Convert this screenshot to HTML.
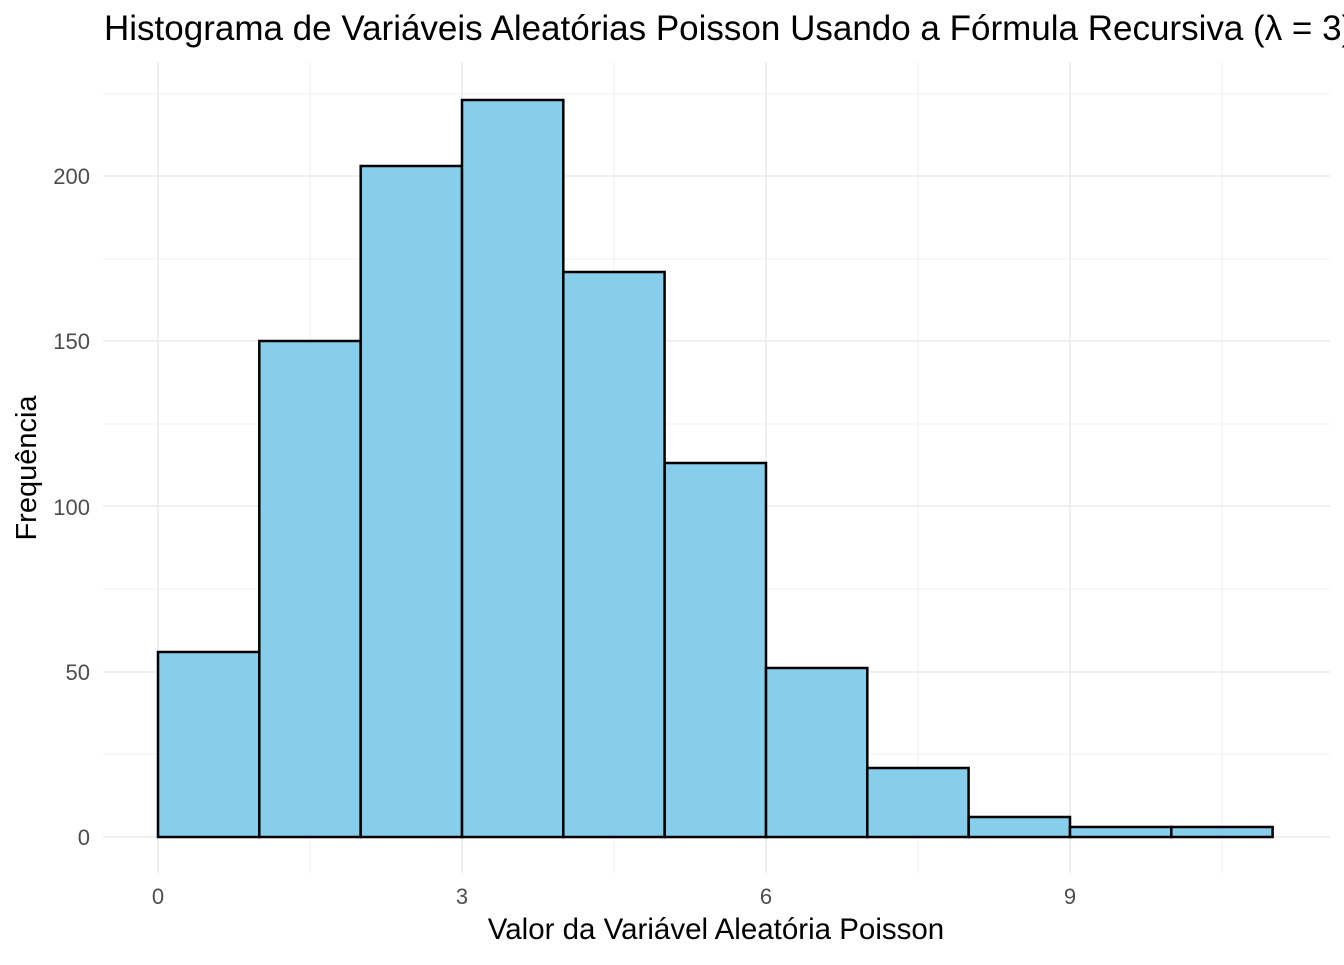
<!DOCTYPE html>
<html><head><meta charset="utf-8"><style>html,body{margin:0;padding:0;background:#fff;overflow:hidden}</style></head>
<body>
<svg width="1344" height="960" xmlns="http://www.w3.org/2000/svg" font-family="Liberation Sans, DejaVu Sans, sans-serif">
<rect width="1344" height="960" fill="#fff"/>
<g stroke="#f0f0f0" stroke-width="1">
<line x1="103" x2="1330" y1="754" y2="754"/><line x1="103" x2="1330" y1="589" y2="589"/>
<line x1="103" x2="1330" y1="424" y2="424"/><line x1="103" x2="1330" y1="259" y2="259"/>
<line x1="103" x2="1330" y1="94" y2="94"/>
<line x1="310" x2="310" y1="62" y2="873"/><line x1="614" x2="614" y1="62" y2="873"/>
<line x1="918" x2="918" y1="62" y2="873"/><line x1="1222" x2="1222" y1="62" y2="873"/>
</g>
<g stroke="#ebebeb" stroke-width="1.5">
<line x1="103" x2="1330" y1="837" y2="837"/><line x1="103" x2="1330" y1="672" y2="672"/>
<line x1="103" x2="1330" y1="506" y2="506"/><line x1="103" x2="1330" y1="341" y2="341"/>
<line x1="103" x2="1330" y1="176" y2="176"/>
<line x1="158" x2="158" y1="62" y2="873"/><line x1="462" x2="462" y1="62" y2="873"/>
<line x1="766" x2="766" y1="62" y2="873"/><line x1="1070" x2="1070" y1="62" y2="873"/>
</g>
<g fill="#87ceeb" stroke="#000" stroke-width="2.5">
<rect x="158" y="652" width="101.3" height="185"/>
<rect x="259.3" y="341" width="101.3" height="496"/>
<rect x="360.7" y="166" width="101.3" height="671"/>
<rect x="462" y="100" width="101.3" height="737"/>
<rect x="563.3" y="272" width="101.3" height="565"/>
<rect x="664.7" y="463" width="101.3" height="374"/>
<rect x="766" y="668" width="101.3" height="169"/>
<rect x="867.3" y="768" width="101.3" height="69"/>
<rect x="968.7" y="817" width="101.3" height="20"/>
<rect x="1070" y="827" width="101.3" height="10"/>
<rect x="1171.3" y="827" width="101.3" height="10"/>
</g>
<g fill="#4d4d4d" font-size="22" text-anchor="end">
<text x="90" y="845">0</text><text x="90" y="680">50</text><text x="90" y="515">100</text>
<text x="90" y="349">150</text><text x="90" y="184">200</text>
</g>
<g fill="#4d4d4d" font-size="22" text-anchor="middle">
<text x="158" y="904">0</text><text x="462" y="904">3</text><text x="766" y="904">6</text><text x="1070" y="904">9</text>
</g>
<text x="716" y="939" font-size="29.5" text-anchor="middle" fill="#000">Valor da Variável Aleatória Poisson</text>
<text transform="translate(36,468) rotate(-90)" font-size="29" text-anchor="middle" fill="#000">Frequência</text>
<text x="104" y="40" font-size="35" fill="#000">Histograma de Variáveis Aleatórias Poisson Usando a Fórmula Recursiva (λ = 3)</text>
</svg>
</body></html>
